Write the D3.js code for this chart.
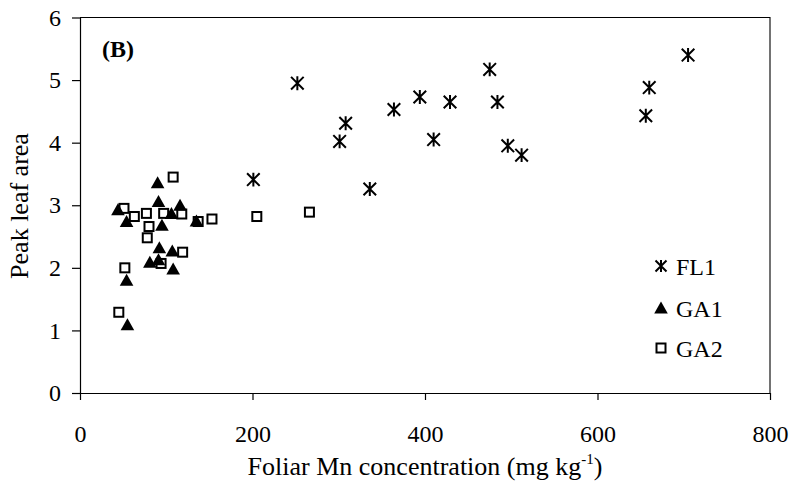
<!DOCTYPE html>
<html><head><meta charset="utf-8">
<script src="https://cdn.jsdelivr.net/npm/d3@7"></script>
<style>
html,body{margin:0;padding:0;background:#fff;}
svg{display:block;}
text{font-family:"Liberation Serif","Times New Roman",serif;fill:#000;}
</style></head>
<body>
<svg id="chart" width="792" height="487"></svg>
<script>
// ---- data ----
const xTicks = [0, 200, 400, 600, 800];
const yTicks = [0, 1, 2, 3, 4, 5, 6];
const seriesNames = ["FL1", "GA1", "GA2"];
const fl1X = [252, 201, 301, 308, 336, 364, 394, 429, 410, 475, 484, 496, 512, 705, 660, 656];
const fl1Y = [4.95, 3.41, 4.02, 4.31, 3.26, 4.53, 4.73, 4.65, 4.05, 5.17, 4.65, 3.95, 3.80, 5.40, 4.88, 4.43];
const ga1X = [44, 54, 90, 91, 116, 106, 95, 135, 92, 107, 81, 91, 108, 54, 55];
const ga1Y = [2.93, 2.74, 3.36, 3.06, 3.00, 2.87, 2.68, 2.75, 2.32, 2.27, 2.09, 2.13, 1.98, 1.80, 1.09];
const ga2X = [108, 51, 63, 77, 97, 118, 80, 78, 153, 137, 119, 94, 52, 45, 205, 266];
const ga2Y = [3.45, 2.95, 2.82, 2.87, 2.87, 2.86, 2.66, 2.48, 2.78, 2.74, 2.25, 2.07, 2.00, 1.29, 2.82, 2.89];
const panelLabel = "(B)";
const xTitle = "Foliar Mn concentration (mg kg";
const yTitle = "Peak leaf area";

// ---- chart ----
const svg = d3.select("#chart");
const x = d3.scaleLinear().domain([0, 800]).range([80, 770]);
const y = d3.scaleLinear().domain([0, 6]).range([393, 17.5]);

// plot border (top & right)
svg.append("path")
  .attr("d", `M${x(0)},${y(6)}H${x(800)}V${y(0)}`)
  .attr("fill", "none").attr("stroke", "#000").attr("stroke-width", 1.1);

const yAxis = svg.append("g").attr("transform", `translate(${x(0)},0)`)
  .call(d3.axisLeft(y).tickValues(yTicks).tickSize(8).tickSizeOuter(0).tickPadding(11).tickFormat(d3.format("d")));
const xAxis = svg.append("g").attr("transform", `translate(0,${y(0)})`)
  .call(d3.axisBottom(x).tickValues(xTicks).tickSize(7).tickSizeOuter(0).tickPadding(25).tickFormat(d3.format("d")));
[yAxis, xAxis].forEach(g => {
  g.selectAll("path,line").attr("stroke", "#000").attr("stroke-width", 1.2);
  g.selectAll("text").style("font-size", "24px").style("font-family", '"Liberation Serif","Times New Roman",serif').attr("fill", "#000");
});

// titles
const xt = svg.append("text").attr("x", 425).attr("y", 475).attr("text-anchor", "middle").style("font-size", "26px");
xt.append("tspan").text(xTitle);
xt.append("tspan").attr("dy", -11).style("font-size", "15px").text("-1");
xt.append("tspan").attr("dy", 11).text(")");

svg.append("text").attr("transform", "translate(28,206) rotate(-90)")
  .attr("text-anchor", "middle").style("font-size", "26px").text(yTitle);

svg.append("text").attr("x", 102).attr("y", 57).style("font-size", "24px").style("font-weight", "bold").text(panelLabel);

// markers
function star(g, cx, cy, r) {
  const p = `M${cx - r},${cy - r}L${cx + r},${cy + r}M${cx - r},${cy + r}L${cx + r},${cy - r}M${cx},${cy - r * 1.1}V${cy + r * 1.1}`;
  g.append("path").attr("d", p).attr("stroke", "#000").attr("stroke-width", 2).attr("fill", "none");
}
function tri(g, cx, cy) {
  g.append("path").attr("d", `M${cx},${cy - 6.5}L${cx + 6.8},${cy + 5.5}L${cx - 6.8},${cy + 5.5}Z`).attr("fill", "#000");
}
function sq(g, cx, cy) {
  g.append("rect").attr("x", cx - 4.5).attr("y", cy - 4.5).attr("width", 9).attr("height", 9)
    .attr("fill", "none").attr("stroke", "#000").attr("stroke-width", 2);
}

const gFL = svg.append("g");
fl1X.forEach((v, i) => star(gFL, x(v), y(fl1Y[i]), 6.3));
const gGA2 = svg.append("g");
ga2X.forEach((v, i) => sq(gGA2, x(v), y(ga2Y[i])));
const gGA1 = svg.append("g");
ga1X.forEach((v, i) => tri(gGA1, x(v), y(ga1Y[i])));

// legend
const lg = svg.append("g");
const legY = [266, 308, 348];
const drawers = [(g, cx, cy) => star(g, cx, cy, 5.5), tri, sq];
seriesNames.forEach((n, i) => {
  drawers[i](lg, 661, legY[i]);
  lg.append("text").attr("x", 676).attr("y", legY[i] + 8.5).style("font-size", "24px").text(n);
});
</script>
</body></html>
